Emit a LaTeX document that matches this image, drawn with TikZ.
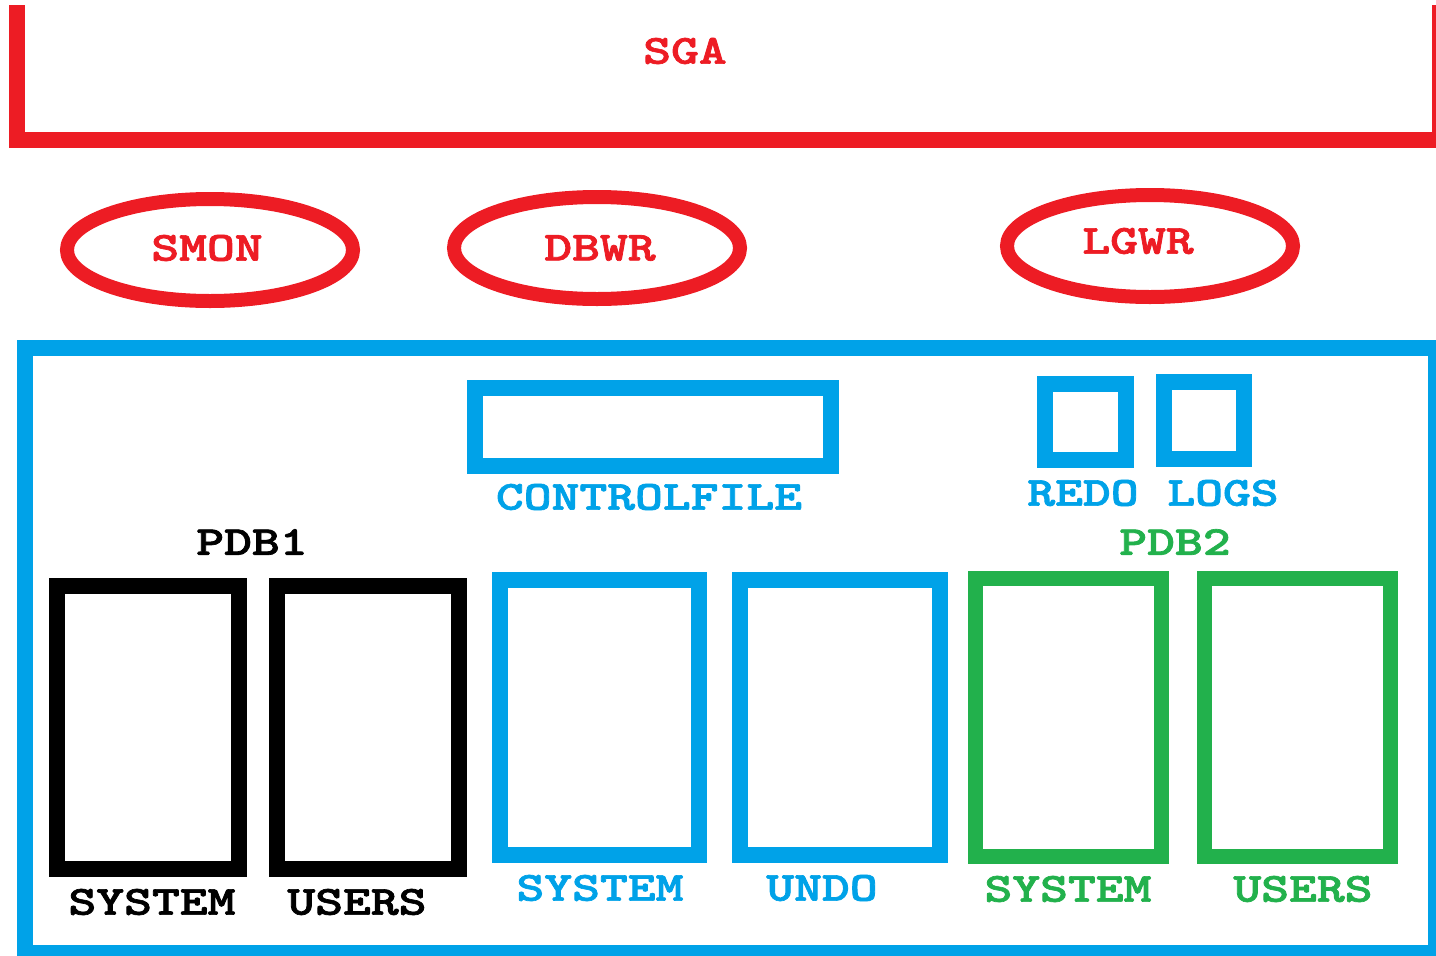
\documentclass[tikz,border=0pt]{standalone}
\usepackage{fontspec}
\usetikzlibrary{shapes.geometric}
\newfontfamily\pfont{lmmonolt10-bold}[Extension=.otf, FakeBold=1.6]
\definecolor{pred}{HTML}{ED1C24}
\definecolor{pblue}{HTML}{00A2E8}
\definecolor{pgreen}{HTML}{22B14C}
\newcommand\plab[1]{\scalebox{1}[0.78]{#1}}
\tikzset{
  lbl/.style={inner sep=0pt, font=\fontsize{53}{56}\selectfont\pfont},
  fbox/.style={draw=#1, line width=16pt, inner sep=0pt, rectangle},
  proc/.style={draw=pred, line width=14pt, ellipse, inner sep=0pt, minimum width=286pt, minimum height=102pt},
}
\begin{document}
\begin{tikzpicture}[x=1pt,y=-1pt]
\useasboundingbox (0,0) rectangle (1436,956);
% SGA bracket
\coordinate (sgaTL) at (17,5);
\coordinate (sgaBL) at (17,140);
\coordinate (sgaBR) at (1440,140);
\coordinate (sgaTR) at (1440,5);
\draw[pred, line width=16pt, line join=miter] (sgaTL) -- (sgaBL) -- (sgaBR) -- (sgaTR);
\node[lbl, text=pred] (sga) at (685,51) {\plab{SGA}};
% processes
\node[proc] (smon) at (210,250) {};
\node[lbl, text=pred] (smonl) at (207,248) {\plab{SMON}};
\node[proc] (dbwr) at (597,248) {};
\node[lbl, text=pred] (dbwrl) at (600,248) {\plab{DBWR}};
\node[proc] (lgwr) at (1150,246) {};
\node[lbl, text=pred] (lgwrl) at (1138,241) {\plab{LGWR}};
% container
\node[fbox=pblue, minimum width=1411pt, minimum height=605pt] (cdb) at (730.5,650.5) {};
% controlfile
\node[fbox=pblue, minimum width=356pt, minimum height=78pt] (cf) at (653,427) {};
\node[lbl, text=pblue] (cfl) at (649,497) {\plab{CONTROLFILE}};
% redo logs
\node[fbox=pblue, minimum width=81pt, minimum height=76pt] (redo) at (1085.5,422) {};
\node[fbox=pblue, minimum width=80pt, minimum height=77pt] (logs) at (1204,420.5) {};
\node[lbl, text=pblue] (redol) at (1083,493) {\plab{REDO}};
\node[lbl, text=pblue] (logsl) at (1223,493) {\plab{LOGS}};
% PDB1
\node[lbl, text=black] (pdb1) at (252,542) {\plab{PDB1}};
\node[fbox=black, minimum width=182pt, minimum height=283pt] (p1sys) at (148,727.5) {};
\node[fbox=black, minimum width=182pt, minimum height=283pt] (p1usr) at (368,727.5) {};
\node[lbl, text=black] (p1sysl) at (152,902) {\plab{SYSTEM}};
\node[lbl, text=black] (p1usrl) at (357,902) {\plab{USERS}};
% root datafiles
\node[fbox=pblue, minimum width=199pt, minimum height=275pt] (rsys) at (599.5,717.5) {};
\node[fbox=pblue, minimum width=200pt, minimum height=275pt] (rundo) at (840,717.5) {};
\node[lbl, text=pblue] (rsysl) at (600,888) {\plab{SYSTEM}};
\node[lbl, text=pblue] (rundol) at (822,888) {\plab{UNDO}};
% PDB2
\node[lbl, text=pgreen] (pdb2) at (1175,542) {\plab{PDB2}};
\node[fbox=pgreen, minimum width=186pt, minimum height=278pt, line width=15pt] (p2sys) at (1068,717.5) {};
\node[fbox=pgreen, minimum width=186pt, minimum height=278pt, line width=15pt] (p2usr) at (1297,717.5) {};
\node[lbl, text=pgreen] (p2sysl) at (1068,889) {\plab{SYSTEM}};
\node[lbl, text=pgreen] (p2usrl) at (1303,889) {\plab{USERS}};
\end{tikzpicture}
\end{document}
